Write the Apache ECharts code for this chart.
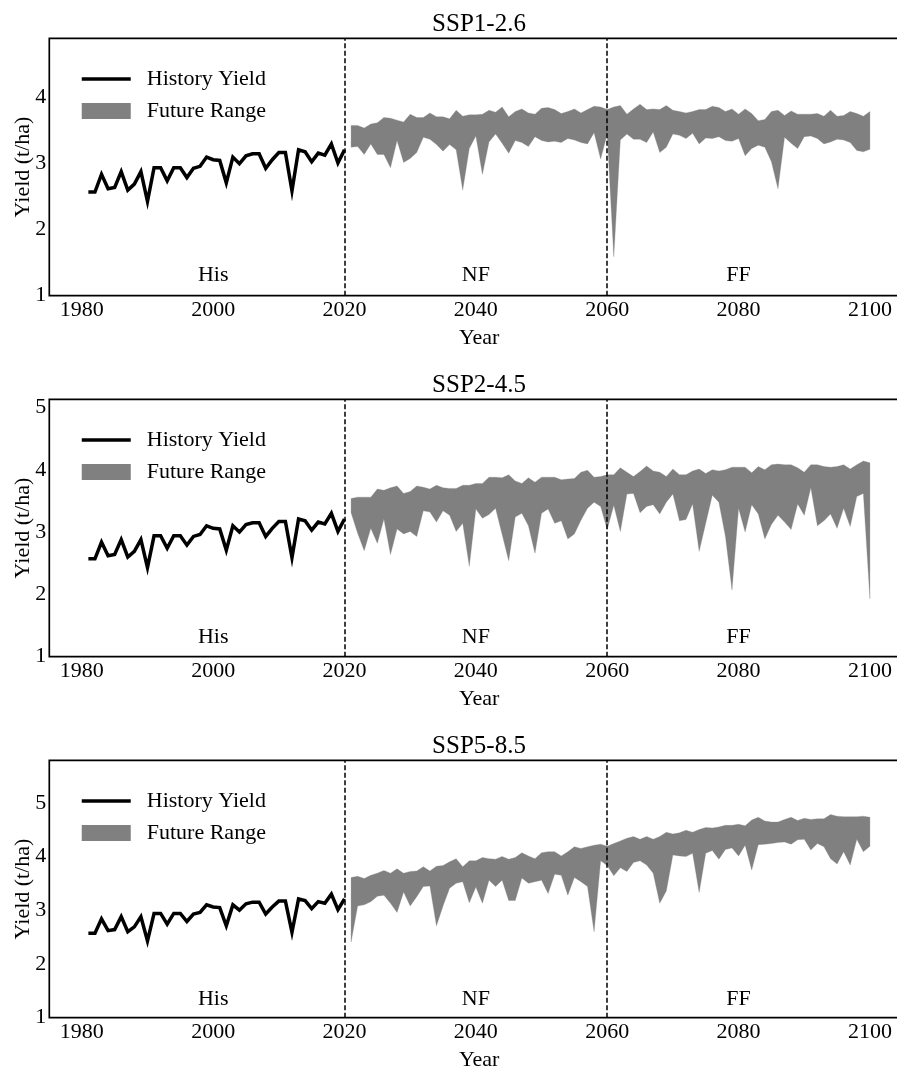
<!DOCTYPE html>
<html><head><meta charset="utf-8">
<script src="https://cdn.jsdelivr.net/npm/echarts@6/dist/echarts.min.js"></script>
<style>html,body{margin:0;padding:0;background:#fff}#c{width:897px;height:1066px}</style>
</head><body><div id="c"></div>
<script>
// ---------- data ----------
const histYears = [1981,1982,1983,1984,1985,1986,1987,1988,1989,1990,1991,1992,1993,1994,1995,1996,1997,1998,1999,2000,
  2001,2002,2003,2004,2005,2006,2007,2008,2009,2010,2011,2012,2013,2014,2015,2016,2017,2018,2019,2020];
const histYield = [2.57,2.57,2.84,2.62,2.64,2.88,2.60,2.69,2.88,2.43,2.94,2.94,2.74,2.94,2.94,2.79,2.93,2.96,3.10,3.06,
  3.05,2.71,3.10,3.00,3.12,3.15,3.15,2.93,3.06,3.17,3.17,2.59,3.21,3.18,3.03,3.16,3.13,3.30,3.01,3.21];
const futYears = [2021,2022,2023,2024,2025,2026,2027,2028,2029,2030,2031,2032,2033,2034,2035,2036,2037,2038,2039,2040,
  2041,2042,2043,2044,2045,2046,2047,2048,2049,2050,2051,2052,2053,2054,2055,2056,2057,2058,2059,2060,
  2061,2062,2063,2064,2065,2066,2067,2068,2069,2070,2071,2072,2073,2074,2075,2076,2077,2078,2079,2080,
  2081,2082,2083,2084,2085,2086,2087,2088,2089,2090,2091,2092,2093,2094,2095,2096,2097,2098,2099,2100];

const ssp126Upper = [3.58,3.58,3.54,3.60,3.62,3.70,3.69,3.66,3.63,3.75, 3.70,3.70,3.77,3.71,3.71,3.68,3.81,3.72,3.74,3.74,
  3.75,3.81,3.78,3.86,3.71,3.79,3.83,3.77,3.75,3.84, 3.85,3.82,3.76,3.79,3.83,3.77,3.82,3.87,3.86,3.82,
  3.86,3.88,3.75,3.83,3.90,3.82,3.83,3.82,3.88,3.81, 3.79,3.77,3.79,3.82,3.82,3.87,3.85,3.79,3.83,3.75,
  3.83,3.76,3.65,3.67,3.79,3.81,3.73,3.80,3.75,3.75, 3.75,3.76,3.72,3.81,3.72,3.73,3.79,3.76,3.72,3.79];
const ssp126Lower = [3.25,3.26,3.14,3.30,3.14,3.14,2.94,3.35,3.02,3.08, 3.17,3.40,3.37,3.29,3.19,3.29,3.21,2.60,3.23,3.42,
  2.84,3.33,3.45,3.31,3.16,3.35,3.32,3.26,3.41,3.35, 3.33,3.34,3.32,3.38,3.36,3.32,3.30,3.47,3.07,3.45,
  1.59,3.36,3.45,3.37,3.37,3.32,3.48,3.17,3.25,3.45, 3.43,3.38,3.46,3.30,3.39,3.38,3.41,3.35,3.34,3.38,
  3.12,3.23,3.28,3.25,3.03,2.62,3.40,3.31,3.23,3.41, 3.42,3.38,3.30,3.33,3.37,3.36,3.32,3.20,3.18,3.22];

const ssp245Upper = [3.54,3.56,3.56,3.56,3.69,3.67,3.71,3.74,3.62,3.65, 3.74,3.72,3.69,3.75,3.71,3.70,3.70,3.75,3.75,3.78,
  3.78,3.88,3.88,3.87,3.92,3.82,3.78,3.87,3.80,3.88, 3.88,3.88,3.84,3.85,3.86,3.96,3.99,3.88,3.89,3.92,
  3.92,4.03,3.96,3.89,3.97,4.06,3.98,3.96,3.89,4.01, 3.92,3.92,3.98,4.01,3.94,4.00,3.98,4.00,4.04,4.04,
  4.04,3.95,4.05,4.00,4.08,4.09,4.08,4.08,4.03,3.96, 4.08,4.08,4.05,4.04,4.05,4.08,4.01,4.08,4.14,4.11];
const ssp245Lower = [3.31,2.98,2.70,3.06,2.82,3.21,2.64,3.05,2.97,3.01, 2.93,3.34,3.32,3.16,3.34,3.27,3.01,3.14,2.45,3.37,
  3.22,3.28,3.38,2.96,2.54,3.24,3.30,3.10,2.66,3.30, 3.37,3.14,3.18,2.89,2.97,3.19,3.38,3.48,3.41,3.04,
  3.43,3.01,3.61,3.62,3.31,3.41,3.44,3.29,3.48,3.61, 3.18,3.20,3.45,2.69,3.14,3.59,3.48,2.93,2.07,3.38,
  3.00,3.44,3.29,2.89,3.12,3.27,3.16,3.04,3.45,3.27, 3.71,3.10,3.18,3.29,3.06,3.38,3.09,3.57,3.62,1.93];

const ssp585Upper = [3.61,3.63,3.59,3.65,3.69,3.74,3.69,3.77,3.69,3.72, 3.73,3.81,3.73,3.82,3.83,3.90,3.96,3.81,3.92,3.92,
  3.98,3.96,3.95,4.00,3.95,3.98,4.07,4.01,3.96,4.07, 4.09,4.09,4.01,4.09,4.18,4.15,4.18,4.21,4.23,4.19,
  4.24,4.29,4.34,4.37,4.32,4.37,4.32,4.37,4.45,4.42, 4.44,4.49,4.45,4.50,4.54,4.53,4.55,4.58,4.58,4.60,
  4.57,4.68,4.73,4.66,4.64,4.64,4.69,4.73,4.67,4.71, 4.69,4.70,4.70,4.78,4.75,4.74,4.74,4.74,4.75,4.73];
const ssp585Lower = [2.41,3.08,3.10,3.16,3.26,3.28,3.13,2.96,3.34,3.08, 3.25,3.44,3.45,2.71,3.08,3.41,3.50,3.53,3.14,3.43,
  3.13,3.56,3.44,3.56,3.18,3.18,3.60,3.50,3.53,3.56, 3.31,3.67,3.65,3.28,3.61,3.53,3.44,2.60,3.92,3.83,
  3.64,3.79,3.72,3.89,3.92,3.84,3.69,3.13,3.36,4.03, 4.01,4.00,4.06,3.33,4.06,4.11,3.95,4.13,4.16,4.01,
  4.21,3.75,4.22,4.23,4.24,4.26,4.27,4.23,4.31,4.32, 4.12,4.24,4.18,3.96,3.86,4.09,3.84,4.32,4.09,4.19];

const panelTitles = ['SSP1-2.6', 'SSP2-4.5', 'SSP5-8.5'];
const panelUpper = [ssp126Upper, ssp245Upper, ssp585Upper];
const panelLower = [ssp126Lower, ssp245Lower, ssp585Lower];
const yMaxes = [4.9, 5.13, 5.79];
const yTicks = [[1,2,3,4],[1,2,3,4,5],[1,2,3,4,5]];
const xTicks = [1980, 2000, 2020, 2040, 2060, 2080, 2100];
const xMin = 1975.05, xMax = 2105.95;
const dividerYears = [2020, 2060];
const regionYears = [2000, 2040, 2080];
const regionNames = ['His', 'NF', 'FF'];
const regionY = 1.2;

// ---------- layout / style ----------
const FONT = '"Liberation Serif", "Times New Roman", serif';
const gridTops = [38.3, 399.3, 760.3];
const gridH = 257.4;

const chart = echarts.init(document.getElementById('c'), null, {renderer: 'canvas'});

const grids = [], xAxes = [], yAxes = [], titles = [], legends = [], series = [];
panelTitles.forEach((t, i) => {
  grids.push({left: 49.3, right: -12, top: gridTops[i], height: gridH,
    outerBoundsMode: 'none', containLabel: false,
    show: true, borderColor: '#000', borderWidth: 1.7, backgroundColor: 'transparent'});
  xAxes.push({type: 'value', gridIndex: i, min: xMin, max: xMax,
    axisLine: {show: false}, axisTick: {show: false}, splitLine: {show: false},
    axisLabel: {customValues: xTicks, formatter: v => String(v), fontFamily: FONT, fontSize: 22, color: '#000', margin: 4},
    name: 'Year', nameLocation: 'middle', nameGap: 32, nameMoveOverlap: false,
    nameTextStyle: {fontFamily: FONT, fontSize: 22, color: '#000'}});
  yAxes.push({type: 'value', gridIndex: i, min: 1, max: yMaxes[i],
    axisLine: {show: false}, axisTick: {show: false}, splitLine: {show: false},
    axisLabel: {customValues: yTicks[i], fontFamily: FONT, fontSize: 22, color: '#000', margin: 3},
    name: 'Yield (t/ha)', nameLocation: 'middle', nameGap: 15, nameMoveOverlap: false,
    nameTextStyle: {fontFamily: FONT, fontSize: 22, color: '#000'}});
  titles.push({text: t, left: 479, top: gridTops[i] - 26, textAlign: 'center', padding: 0,
    textStyle: {fontFamily: FONT, fontSize: 25, fontWeight: 'normal', color: '#000'}});
  legends.push({orient: 'vertical', left: 80, top: gridTops[i] + 29.7, padding: 0,
    itemWidth: 49, itemHeight: 16, itemGap: 10,
    data: [{name: 'History Yield', itemStyle: {opacity: 0}, lineStyle: {width: 3.5, color: '#000'}},
           {name: 'Future Range', icon: 'rect', itemStyle: {color: '#808080'}}],
    textStyle: {fontFamily: FONT, fontSize: 22, color: '#000', padding: [0, 0, 0, 11]}});

  const up = panelUpper[i], lo = panelLower[i];
  series.push({
    type: 'custom', name: 'Future Range', xAxisIndex: i, yAxisIndex: i,
    itemStyle: {color: '#808080'}, clip: true, silent: true, z: 1,
    data: futYears.map((y, k) => [y, lo[k], up[k]]),
    encode: {x: 0, y: [1, 2]},
    renderItem: (params, api) => {
      if (params.dataIndex !== 0) return null;
      const pts = [];
      for (let k = 0; k < futYears.length; k++) pts.push(api.coord([futYears[k], up[k]]));
      for (let k = futYears.length - 1; k >= 0; k--) pts.push(api.coord([futYears[k], lo[k]]));
      return {type: 'polygon', shape: {points: pts}, style: {fill: '#808080', stroke: '#808080', lineWidth: 0.3}};
    }
  });
  series.push({
    type: 'line', name: 'History Yield', xAxisIndex: i, yAxisIndex: i, z: 3,
    data: histYears.map((y, k) => [y, histYield[k]]),
    symbol: 'none', color: '#000', lineStyle: {color: '#000', width: 3.5, join: 'miter'},
    markLine: {symbol: ['none', 'none'], silent: true, label: {show: false},
      lineStyle: {type: [5, 2.5], color: '#000', width: 1.5},
      data: dividerYears.map(y => ({xAxis: y}))}
  });
  series.push({
    type: 'custom', name: '_region', xAxisIndex: i, yAxisIndex: i, silent: true, z: 4,
    data: regionYears.map((y, k) => [y, regionY]),
    renderItem: (params, api) => {
      const p = api.coord([api.value(0), api.value(1)]);
      return {type: 'text', x: p[0], y: p[1] - 7.4,
        style: {text: regionNames[params.dataIndex], font: '22px ' + FONT, fill: '#000',
          align: 'center', verticalAlign: 'middle'}};
    }
  });
});

chart.setOption({
  animation: false,
  backgroundColor: '#fff',
  textStyle: {fontFamily: FONT},
  title: titles, legend: legends, grid: grids, xAxis: xAxes, yAxis: yAxes, series: series
});
</script></body></html>
